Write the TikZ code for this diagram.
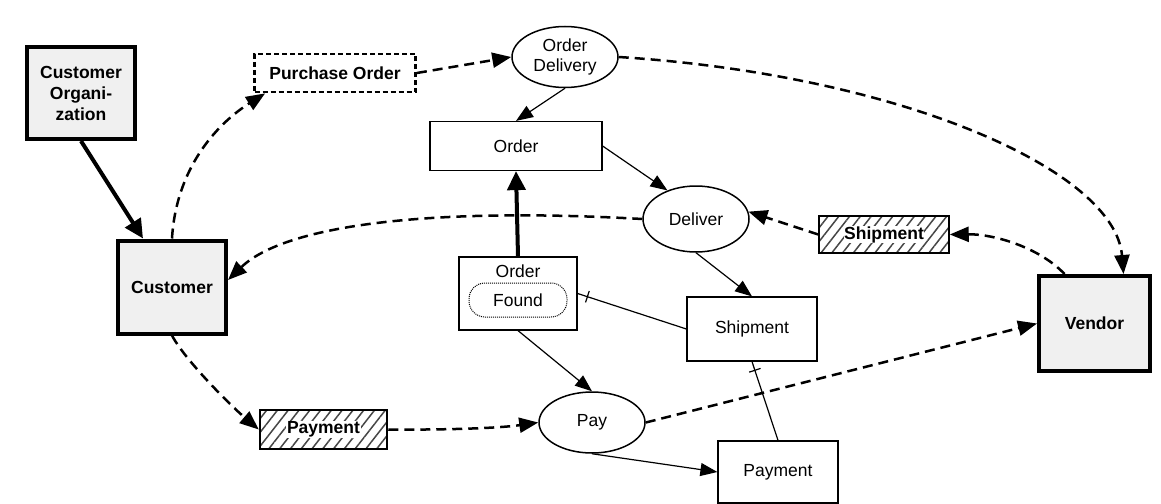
\documentclass[tikz,border=0pt]{standalone}
\usepackage{fontspec}
\setmainfont{Liberation Sans}
\usetikzlibrary{arrows.meta,shapes.geometric,patterns.meta,calc}
\definecolor{boxgray}{RGB}{240,240,240}
\definecolor{hatchgray}{RGB}{70,70,70}
\tikzset{
  txt/.style={font=\fontsize{17.5}{21}\selectfont},
  bigbox/.style={txt,draw,line width=4pt,fill=boxgray,font=\fontsize{17.5}{21}\selectfont\bfseries,align=center,inner sep=0pt},
  plainbox/.style={txt,draw,line width=1.2pt,fill=white,inner sep=0pt},
  proc/.style={txt,ellipse,draw,line width=1.5pt,fill=white,inner sep=0pt,align=center},
  hatchbox/.style={draw,line width=2.5pt,pattern={Lines[angle=52,distance=8.5pt,line width=1.5pt]},pattern color=hatchgray,inner sep=0pt},
  hatchlabel/.style={fill=white,inner sep=0.6pt,font=\fontsize{17.5}{21}\selectfont\bfseries},
  dflow/.style={line width=2.5pt,dash pattern=on 10pt off 6pt,-{Triangle[length=19pt,width=15pt]}},
  flow/.style={line width=1.2pt,-{Triangle[length=17pt,width=13pt]}},
  boldflow/.style={line width=4pt,-{Triangle[length=19pt,width=18pt]}},
  link/.style={line width=1.2pt},
}
\begin{document}
\begin{tikzpicture}[x=1pt,y=-1pt]
\useasboundingbox (0,0) rectangle (1161,503);
% nodes
\node[bigbox,minimum width=108pt,minimum height=92pt] (custorg) at (81,93) {Customer\\Organi-\\zation};
\node[bigbox,minimum width=108pt,minimum height=93pt] (cust) at (172,287) {Customer};
\node[draw,line width=2.8pt,dash pattern=on 5pt off 3pt,inner sep=0pt,minimum width=161pt,minimum height=38pt,font=\fontsize{17.5}{21}\selectfont\bfseries] (po) at (335,73) {Purchase Order};
\node[proc,minimum width=106pt,minimum height=61pt] (od) at (565,57) {Order\\[-1pt]Delivery};
\node[plainbox,minimum width=172pt,minimum height=49pt] (order) at (516,146) {Order};
\node[proc,minimum width=106pt,minimum height=66pt] (deliver) at (696,219) {Deliver};
\node[plainbox,minimum width=118pt,minimum height=73pt] (of) at (518,293.5) {};
\node[txt,inner sep=0pt] (oftext) at (518,271) {Order};
\node[txt,draw,densely dotted,line width=1pt,rounded corners=16pt,minimum width=98pt,minimum height=34pt,inner sep=0pt] (found) at (518,300) {Found};
\node[plainbox,minimum width=130pt,minimum height=64pt] (shipbox) at (752,329) {Shipment};
\node[bigbox,minimum width=111pt,minimum height=95pt] (vendor) at (1094.5,323.5) {Vendor};
\node[hatchbox,minimum width=130pt,minimum height=37pt] (shiph) at (884,234.5) {};
\node[hatchlabel] (shiphtext) at (shiph) {Shipment};
\node[hatchbox,minimum width=127pt,minimum height=39pt] (payh) at (323.5,429.5) {};
\node[hatchlabel] (payhtext) at (payh) {Payment};
\node[proc,minimum width=106pt,minimum height=61pt] (pay) at (592,422.5) {Pay};
\node[plainbox,minimum width=120pt,minimum height=62pt] (paybox) at (778,472) {Payment};
% connectors
\draw[boldflow] (custorg.south) -- ([xshift=-29pt]cust.north);
\draw[dflow] (cust.north) .. controls (176,170) and (215,125) .. ([xshift=12pt]po.south west);
\draw[dflow] (po.east) -- (od.west);
\draw[dflow] (od.east) .. controls (900,75) and (1115,170) .. ([xshift=29pt]vendor.north);
\draw[flow] (od.south) -- (order.north);
\draw[flow] (order.east) -- (deliver.135);
\draw[boldflow] (of.north) -- (order.south);
\draw[dflow] (deliver.west) .. controls (430,207) and (285,225) .. ([yshift=7pt]cust.east);
\draw[flow] (deliver.south) -- (shipbox.north);
\draw[dflow] (shiph.west) -- (deliver.8);
\draw[dflow] ([xshift=-30pt]vendor.north) .. controls (1040,248) and (995,234) .. (shiph.east);
\draw[link] (of.east) -- coordinate[pos=0.09] (t1) (shipbox.west);
\draw[link] ($(t1)!6pt!90:(shipbox.west)$) -- ($(t1)!6pt!-90:(shipbox.west)$);
\draw[flow] (of.south) -- (pay.north);
\draw[link] (shipbox.south) -- coordinate[pos=0.11] (t2) (paybox.north);
\draw[link] ($(t2)!6pt!90:(paybox.north)$) -- ($(t2)!6pt!-90:(paybox.north)$);
\draw[dflow] (cust.south) .. controls (185,360) and (230,405) .. (payh.west);
\draw[dflow] (payh.east) .. controls (450,430) and (500,428) .. (pay.west);
\draw[dflow] (pay.east) -- (vendor.west);
\draw[flow] (pay.south) -- (paybox.west);
\end{tikzpicture}
\end{document}
